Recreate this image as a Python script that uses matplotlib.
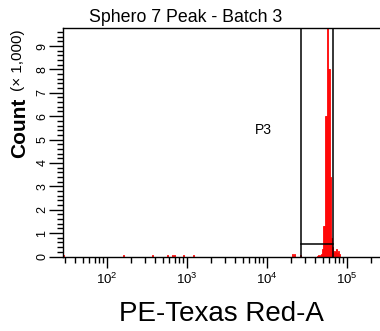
import numpy as np
import matplotlib
matplotlib.use("Agg")
import matplotlib.pyplot as plt
from matplotlib.ticker import MultipleLocator, FuncFormatter, LogLocator

plt.rcParams['font.family'] = ['Liberation Sans', 'DejaVu Sans']
plt.rcParams['mathtext.fontset'] = 'custom'
plt.rcParams['mathtext.rm'] = 'Liberation Sans'

# histogram bins: log10 of the left edge of each bin and its event count
bin_log = [1.45, 2.20, 2.5625, 2.75, 2.8125, 2.8375, 2.95, 3.075,
           4.3125, 4.3375, 4.4125,
           4.625, 4.6375, 4.65, 4.6625, 4.675, 4.6875, 4.70, 4.7125,
           4.725, 4.7375, 4.75, 4.7625, 4.775, 4.7875, 4.80, 4.8125,
           4.825, 4.8375, 4.85, 4.8625, 4.875, 4.8875, 4.90]
counts = [70, 70, 60, 60, 70, 60, 60, 60,
          90, 120, 60,
          40, 50, 40, 70, 110, 300, 1300, 1300,
          6000, 6000, 12000, 8000, 8000, 3400, 800, 400,
          150, 250, 200, 300, 150, 250, 100]
bin_w = 0.0125

# P3 gate
gate_lo, gate_hi, gate_y = 26600, 66800, 550
gate_name = "P3"

x_min, x_max = 10 ** 1.45, 262144
y_max = 9770

fig = plt.figure(figsize=(3.8, 3.31), dpi=100)
ax = fig.add_axes([63 / 380, 1 - 256.5 / 331, 317.5 / 380, 228.5 / 331])

left = [10 ** b for b in bin_log]
right = [10 ** (b + bin_w) for b in bin_log]
widths = [r - l for l, r in zip(left, right)]
ax.bar(left, counts, width=widths, align='edge', color='#ff4848',
       edgecolor='red', linewidth=0.6)

ax.axvline(gate_lo, color='black', lw=1.1)
ax.axvline(gate_hi, color='black', lw=1.1)
ax.plot([gate_lo, gate_hi], [gate_y, gate_y], color='black', lw=1.1)
ax.text(10 ** 3.96, 5400, gate_name, fontsize=10, ha='center', va='center')

ax.set_xscale('log')
ax.set_xlim(x_min, x_max)
ax.set_ylim(0, y_max)

ax.xaxis.set_major_locator(LogLocator(base=10, numticks=10))
ax.xaxis.set_minor_locator(LogLocator(base=10, subs=np.arange(2, 10), numticks=20))
ax.yaxis.set_major_locator(MultipleLocator(1000))
ax.yaxis.set_minor_locator(MultipleLocator(200))
ax.yaxis.set_major_formatter(FuncFormatter(lambda v, p: "%d" % round(v / 1000)))

ax.tick_params(axis='x', which='major', length=8, width=1, pad=3, labelsize=9.5)
ax.tick_params(axis='x', which='minor', length=4.3, width=1)
ax.tick_params(axis='y', which='major', length=10, width=1, pad=0.5, labelsize=9)
ax.tick_params(axis='y', which='minor', length=4.5, width=1)
for lab in ax.get_yticklabels():
    lab.set_rotation(90)
    lab.set_va('center')

for s in ax.spines.values():
    s.set_linewidth(1)
ax.spines['right'].set_visible(False)

fig.text(186 / 380, 1 - 18 / 331, "Sphero 7 Peak - Batch 3", fontsize=12.8,
         ha='center', va='center')
fig.text(20 / 380, 1 - 128 / 331, "Count", fontsize=15, fontweight='bold',
         rotation=90, ha='center', va='center')
fig.text(18 / 380, 1 - 60 / 331, "(× 1,000)", fontsize=11, rotation=90,
         ha='center', va='center')
fig.text(221 / 380, 1 - 314 / 331, "PE-Texas Red-A", fontsize=20,
         ha='center', va='center')

fig.savefig("out.png", dpi=100)
